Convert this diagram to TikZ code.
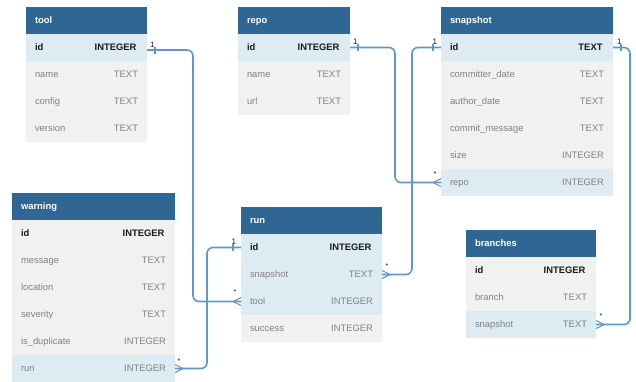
\documentclass[tikz,border=0pt]{standalone}
\usepackage{fontspec}
\setmainfont{Liberation Sans}
\definecolor{hdrblue}{RGB}{47,102,147}
\definecolor{rowblue}{RGB}{221,235,242}
\definecolor{rowgray}{RGB}{241,241,241}
\definecolor{linkblue}{RGB}{94,152,207}
\definecolor{txtgray}{RGB}{130,130,130}
\definecolor{keyblack}{RGB}{25,25,25}
\tikzset{
  rowbox/.style={draw=none, inner sep=0pt, outer sep=0pt, minimum height=27pt, anchor=north west},
  basetxt/.style={inner sep=0pt, outer sep=0pt, text height=7pt, text depth=2pt, font=\fontsize{9.4}{11}\selectfont},
  hdrtxt/.style={basetxt, text=white, font=\fontsize{9.4}{11}\selectfont\bfseries},
  keyf/.style={basetxt, text=keyblack, font=\fontsize{9.4}{11}\selectfont\bfseries},
  keyt/.style={basetxt, text=keyblack, font=\fontsize{9.4}{11}\selectfont\bfseries, xshift=-1.5pt},
  plainf/.style={basetxt, text=txtgray},
  plaint/.style={basetxt, text=txtgray},
  conn/.style={draw=linkblue, line width=1.6pt, rounded corners=6pt},
  mark1/.style={draw=linkblue, line width=1.1pt},
  cardlbl/.style={inner sep=0pt, outer sep=0pt, text=keyblack, font=\fontsize{8}{9}\selectfont},
  starlbl/.style={inner sep=0pt, outer sep=0pt, text=keyblack, font=\fontsize{7}{8}\selectfont}
}
\newcommand{\erhead}[5]{%
  \node[rowbox, fill=hdrblue, minimum width=#4pt] (#1) at (#2,#3) {};
  \node[hdrtxt, anchor=west] (#1-l) at ([xshift=9pt]#1.west) {#5};}
\newcommand{\errow}[8]{%
  \node[rowbox, fill=#5, minimum width=#4pt] (#1) at (#2,#3) {};
  \node[#8f, anchor=west] (#1-f) at ([xshift=9pt]#1.west) {#6};
  \node[#8t, anchor=east] (#1-t) at ([xshift=-9pt]#1.east) {#7};}
\begin{document}
\begin{tikzpicture}[x=1pt, y=-1pt]
\useasboundingbox (0,0) rectangle (636,381);
\fill[white] (0,0) rectangle (636,381);

% tool
\erhead{tool}{26}{7}{121}{tool}
\errow{tool-id}{26}{34}{121}{rowblue}{id}{INTEGER}{key}
\errow{tool-name}{26}{61}{121}{rowgray}{name}{TEXT}{plain}
\errow{tool-config}{26}{88}{121}{rowgray}{config}{TEXT}{plain}
\errow{tool-version}{26}{115}{121}{rowgray}{version}{TEXT}{plain}

% repo
\erhead{repo}{238}{7}{112}{repo}
\errow{repo-id}{238}{34}{112}{rowblue}{id}{INTEGER}{key}
\errow{repo-name}{238}{61}{112}{rowgray}{name}{TEXT}{plain}
\errow{repo-url}{238}{88}{112}{rowgray}{url}{TEXT}{plain}

% snapshot
\erhead{snap}{441}{7}{172}{snapshot}
\errow{snap-id}{441}{34}{172}{rowblue}{id}{TEXT}{key}
\errow{snap-cd}{441}{61}{172}{rowgray}{committer\_date}{TEXT}{plain}
\errow{snap-ad}{441}{88}{172}{rowgray}{author\_date}{TEXT}{plain}
\errow{snap-cm}{441}{115}{172}{rowgray}{commit\_message}{TEXT}{plain}
\errow{snap-size}{441}{142}{172}{rowgray}{size}{INTEGER}{plain}
\errow{snap-repo}{441}{169}{172}{rowblue}{repo}{INTEGER}{plain}

% warning
\erhead{warn}{12}{193}{163}{warning}
\errow{warn-id}{12}{220}{163}{rowgray}{id}{INTEGER}{key}
\errow{warn-msg}{12}{247}{163}{rowgray}{message}{TEXT}{plain}
\errow{warn-loc}{12}{274}{163}{rowgray}{location}{TEXT}{plain}
\errow{warn-sev}{12}{301}{163}{rowgray}{severity}{TEXT}{plain}
\errow{warn-dup}{12}{328}{163}{rowgray}{is\_duplicate}{INTEGER}{plain}
\errow{warn-run}{12}{355}{163}{rowblue}{run}{INTEGER}{plain}

% run
\erhead{run}{241}{207}{141}{run}
\errow{run-id}{241}{234}{141}{rowblue}{id}{INTEGER}{key}
\errow{run-snapshot}{241}{261}{141}{rowblue}{snapshot}{TEXT}{plain}
\errow{run-tool}{241}{288}{141}{rowblue}{tool}{INTEGER}{plain}
\errow{run-success}{241}{315}{141}{rowgray}{success}{INTEGER}{plain}

% branches
\erhead{br}{466}{230}{130}{branches}
\errow{br-id}{466}{257}{130}{rowgray}{id}{INTEGER}{key}
\errow{br-branch}{466}{284}{130}{rowgray}{branch}{TEXT}{plain}
\errow{br-snapshot}{466}{311}{130}{rowblue}{snapshot}{TEXT}{plain}

% connectors
\coordinate (toolsrc) at ([yshift=-2.5pt]tool-id.east);
\draw[conn] (toolsrc) -- ++(46,0) |- (run-tool.west);
\draw[conn] (repo-id.east) -- ++(45,0) |- (snap-repo.west);
\draw[conn] (snap-id.west) -- ++(-29,0) |- (run-snapshot.east);
\draw[conn] (snap-id.east) -- ++(17,0) |- (br-snapshot.east);
\draw[conn] (run-id.west) -- ++(-34,0) |- (warn-run.east);

% one-side ticks
\draw[mark1] ([xshift=8pt,yshift=3.5pt]toolsrc) -- ([xshift=8pt,yshift=-3.5pt]toolsrc);
\draw[mark1] ([xshift=8pt,yshift=3.5pt]repo-id.east) -- ([xshift=8pt,yshift=-3.5pt]repo-id.east);
\draw[mark1] ([xshift=-8pt,yshift=3.5pt]snap-id.west) -- ([xshift=-8pt,yshift=-3.5pt]snap-id.west);
\draw[mark1] ([xshift=8pt,yshift=3.5pt]snap-id.east) -- ([xshift=8pt,yshift=-3.5pt]snap-id.east);
\draw[mark1] ([xshift=-8pt,yshift=3.5pt]run-id.west) -- ([xshift=-8pt,yshift=-3.5pt]run-id.west);

% crow feet
\draw[mark1] ([xshift=-8pt]run-tool.west) -- ([yshift=4pt]run-tool.west) ([xshift=-8pt]run-tool.west) -- ([yshift=-4pt]run-tool.west);
\draw[mark1] ([xshift=-8pt]snap-repo.west) -- ([yshift=4pt]snap-repo.west) ([xshift=-8pt]snap-repo.west) -- ([yshift=-4pt]snap-repo.west);
\draw[mark1] ([xshift=8pt]run-snapshot.east) -- ([yshift=4pt]run-snapshot.east) ([xshift=8pt]run-snapshot.east) -- ([yshift=-4pt]run-snapshot.east);
\draw[mark1] ([xshift=8pt]br-snapshot.east) -- ([yshift=4pt]br-snapshot.east) ([xshift=8pt]br-snapshot.east) -- ([yshift=-4pt]br-snapshot.east);
\draw[mark1] ([xshift=8pt]warn-run.east) -- ([yshift=4pt]warn-run.east) ([xshift=8pt]warn-run.east) -- ([yshift=-4pt]warn-run.east);

% cardinality labels
\node[cardlbl, anchor=south west] (l1) at ([xshift=3pt,yshift=3pt]toolsrc) {1};
\node[cardlbl, anchor=south west] (l2) at ([xshift=3pt,yshift=3pt]repo-id.east) {1};
\node[cardlbl, anchor=south east] (l3) at ([xshift=-4pt,yshift=3pt]snap-id.west) {1};
\node[cardlbl, anchor=south west] (l4) at ([xshift=4pt,yshift=3pt]snap-id.east) {1};
\node[cardlbl, anchor=south east] (l5) at ([xshift=-5pt,yshift=3pt]run-id.west) {1};
\node[starlbl] (s1) at ([xshift=-6pt,yshift=9pt]run-tool.west) {*};
\node[starlbl] (s2) at ([xshift=-6pt,yshift=8pt]snap-repo.west) {*};
\node[starlbl] (s3) at ([xshift=5pt,yshift=8pt]run-snapshot.east) {*};
\node[starlbl] (s4) at ([xshift=5pt,yshift=8pt]br-snapshot.east) {*};
\node[starlbl] (s5) at ([xshift=4pt,yshift=7pt]warn-run.east) {*};
\end{tikzpicture}
\end{document}
